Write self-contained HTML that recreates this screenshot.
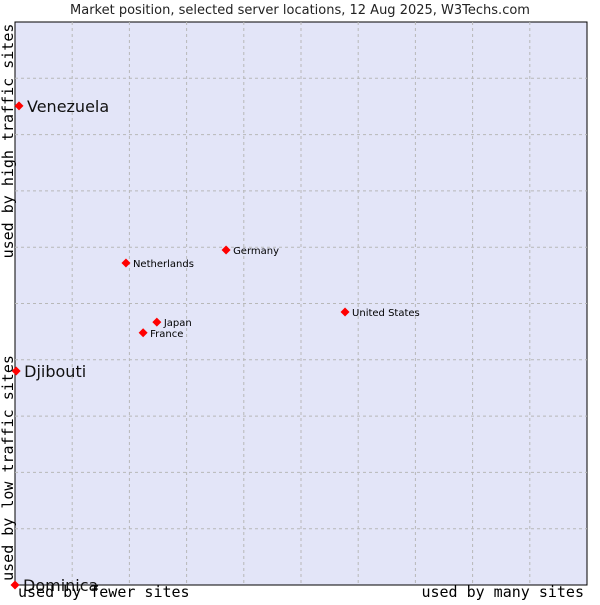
<!DOCTYPE html>
<html><head><meta charset="utf-8"><style>
body{margin:0;background:#fff;width:600px;height:600px;overflow:hidden}
svg text{font-family:"DejaVu Sans","Liberation Sans",sans-serif}
</style></head><body>
<svg id="c" width="600" height="600">
<text x="300" y="14" text-anchor="middle" font-size="13" fill="#222">Market position, selected server locations, 12 Aug 2025, W3Techs.com</text>
<rect x="15" y="22" width="572" height="563" fill="#e3e5f8" stroke="#000" stroke-width="1"/>
<g id="grid"></g>
<g id="pts"></g>
<text transform="translate(13,141) rotate(-90)" text-anchor="middle" font-family="DejaVu Sans Mono,Liberation Mono,monospace" font-size="15" fill="#000" style="font-family:'DejaVu Sans Mono','Liberation Mono',monospace">used by high traffic sites</text>
<text transform="translate(13,468) rotate(-90)" text-anchor="middle" font-size="15" fill="#000" style="font-family:'DejaVu Sans Mono','Liberation Mono',monospace">used by low traffic sites</text>
<text x="18" y="597" font-size="15" fill="#000" style="font-family:'DejaVu Sans Mono','Liberation Mono',monospace">used by fewer sites</text>
<text x="584" y="597" text-anchor="end" font-size="15" fill="#000" style="font-family:'DejaVu Sans Mono','Liberation Mono',monospace">used by many sites</text>
</svg>
<script>
const names=["Venezuela","Djibouti","Dominica","Netherlands","Germany","Japan","France","United States"];
const xs=[0.7,0.2,0,19.4,36.9,24.8,22.4,57.7];
const ys=[85.1,38.0,0,57.2,59.5,46.7,44.8,48.5];
const big=[1,1,1,0,0,0,0,0];
const L=15,R=587,T=22,B=585;
const sx=v=>L+v/100*(R-L), sy=v=>B-v/100*(B-T);
const ns="http://www.w3.org/2000/svg";
const g=document.getElementById('grid'), p=document.getElementById('pts');
for(let i=1;i<10;i++){
 let l=document.createElementNS(ns,'line');
 l.setAttribute('x1',sx(i*10));l.setAttribute('x2',sx(i*10));l.setAttribute('y1',T);l.setAttribute('y2',B);
 l.setAttribute('stroke','#b8b8b8');l.setAttribute('stroke-dasharray','3,3');
 
 
 g.appendChild(l);
 let h=document.createElementNS(ns,'line');
 h.setAttribute('y1',sy(i*10));h.setAttribute('y2',sy(i*10));h.setAttribute('x1',L);h.setAttribute('x2',R);
 h.setAttribute('stroke','#b8b8b8');h.setAttribute('stroke-dasharray','3,3');
 
 
 g.appendChild(h);
}
names.forEach((n,i)=>{
 const x=sx(xs[i]),y=sy(ys[i]);
 const d=document.createElementNS(ns,'polygon');
 d.setAttribute('points',`${x},${y-4.5} ${x+4.5},${y} ${x},${y+4.5} ${x-4.5},${y}`);
 d.setAttribute('fill','#f00');
 
 
 p.appendChild(d);
 const t=document.createElementNS(ns,'text');
 t.setAttribute('x',x+(big[i]?8:7));t.setAttribute('y',y+(big[i]?6:4));
 t.setAttribute('font-size',big[i]?16:10);t.setAttribute('fill',big[i]?'#111':'#000');
 t.textContent=n;
 
 
 p.appendChild(t);
});
</script>
</body></html>
